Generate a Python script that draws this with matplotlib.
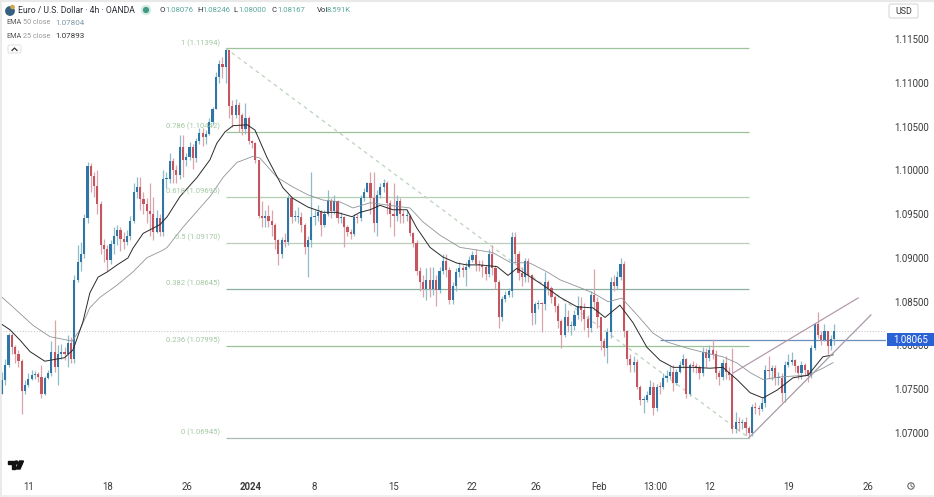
import matplotlib
matplotlib.use("Agg")
import matplotlib.pyplot as plt
import numpy as np
from matplotlib.patches import Rectangle, FancyBboxPatch, Circle, Polygon
from matplotlib.collections import LineCollection

plt.rcParams['font.family'] = ['Roboto', 'DejaVu Sans']

first_open = 1.0745
closes = [
 1.0761,1.0778,1.0812,1.0798,1.0790,1.0782,1.0748,1.0755,1.0762,1.0766,
 1.0767,1.0764,1.0745,1.0763,1.0769,1.0792,1.0775,1.0790,1.0793,1.0790,
 1.0803,1.0785,1.0875,1.0895,1.0904,1.0945,1.1005,1.0993,1.0982,1.0961,
 1.0915,1.0910,1.0898,1.0916,1.0925,1.0932,1.0922,1.0918,1.0925,1.0942,
 1.0975,1.0981,1.0967,1.0962,1.0953,1.0950,1.0930,1.0945,1.0930,1.0990,
 1.0990,1.1011,1.1000,1.0995,1.1027,1.1012,1.1015,1.1027,1.1014,1.1034,
 1.1043,1.1038,1.1042,1.1055,1.1070,1.1107,1.1122,1.1118,1.1138,1.1073,
 1.1063,1.1075,1.1063,1.1047,1.1060,1.1034,1.1031,1.1012,1.0948,1.0946,
 1.0948,1.0942,1.0938,1.0920,1.0905,1.0920,1.0918,1.0968,1.0947,1.0947,
 1.0947,1.0938,1.0913,1.0920,1.0947,1.0948,1.0952,1.0938,1.0950,1.0965,
 1.0953,1.0965,1.0945,1.0947,1.0935,1.0930,1.0927,1.0947,1.0945,1.0968,
 1.0975,1.0985,1.0968,1.0940,1.0972,1.0981,1.0985,1.0963,1.0950,1.0948,
 1.0965,1.0950,1.0948,1.0948,1.0928,1.0917,1.0885,1.0873,1.0864,1.0875,
 1.0865,1.0875,1.0863,1.0885,1.0897,1.0886,1.0852,1.0868,1.0884,1.0888,
 1.0886,1.0890,1.0898,1.0903,1.0893,1.0892,1.0890,1.0882,1.0905,1.0888,
 1.0872,1.0832,1.0853,1.0858,1.0862,1.0924,1.0905,1.0883,1.0878,1.0896,
 1.0880,1.0837,1.0847,1.0848,1.0847,1.0872,1.0866,1.0855,1.0845,1.0828,
 1.0812,1.0833,1.0822,1.0822,1.0835,1.0845,1.0840,1.0830,1.0820,1.0858,
 1.0850,1.0833,1.0805,1.0797,1.0815,1.0873,1.0868,1.0878,1.0893,1.0817,
 1.0784,1.0778,1.0781,1.0753,1.0738,1.0738,1.0743,1.0752,1.0729,1.0753,
 1.0752,1.0763,1.0765,1.0770,1.0757,1.0770,1.0778,1.0784,1.0744,1.0778,
 1.0776,1.0775,1.0769,1.0793,1.0786,1.0795,1.0790,1.0769,1.0764,1.0780,
 1.0770,1.0766,1.0705,1.0712,1.0711,1.0712,1.0706,1.0700,1.0730,1.0729,
 1.0727,1.0734,1.0772,1.0771,1.0774,1.0763,1.0763,1.0746,1.0778,1.0781,
 1.0783,1.0776,1.0769,1.0778,1.0772,1.0765,1.0797,1.0824,1.0812,1.0806,1.0816,1.0799,1.0807,1.08167]
highs = [
 1.0770,1.0785,1.0814,1.0814,1.0800,1.0795,1.0785,1.0760,1.0768,1.0772,
 1.0771,1.0770,1.0778,1.0765,1.0772,1.0805,1.0829,1.0800,1.0802,1.0798,
 1.0812,1.0810,1.0880,1.0915,1.0918,1.0950,1.1009,1.1008,1.0998,1.1000,
 1.0965,1.0922,1.0915,1.0920,1.0935,1.0938,1.0935,1.0930,1.0932,1.0948,
 1.0985,1.0992,1.0992,1.0975,1.0968,1.0985,1.0970,1.0955,1.0950,1.1000,
 1.0998,1.1020,1.1014,1.1006,1.1040,1.1040,1.1020,1.1032,1.1030,1.1037,
 1.1048,1.1048,1.1046,1.1060,1.1072,1.1112,1.1126,1.1130,1.1139,1.1132,
 1.1080,1.1082,1.1078,1.1066,1.1077,1.1062,1.1035,1.1032,1.1012,1.0965,
 1.0955,1.0960,1.0955,1.0940,1.0922,1.0924,1.0928,1.0972,1.0970,1.0955,
 1.0958,1.0952,1.0940,1.0925,1.0998,1.0955,1.0960,1.0955,1.0955,1.0978,
 1.0968,1.0972,1.0966,1.0952,1.0948,1.0938,1.0933,1.0950,1.0950,1.0972,
 1.0980,1.0987,1.0998,1.0998,1.0978,1.0985,1.0990,1.0988,1.0966,1.0985,
 1.0972,1.0968,1.0955,1.0955,1.0950,1.0930,1.0920,1.0890,1.0880,1.0888,
 1.0890,1.0890,1.0880,1.0890,1.0905,1.0905,1.0890,1.0872,1.0888,1.0895,
 1.0892,1.0895,1.0902,1.0908,1.0910,1.0898,1.0898,1.0892,1.0910,1.0915,
 1.0892,1.0875,1.0856,1.0862,1.0866,1.0930,1.0930,1.0908,1.0890,1.0900,
 1.0900,1.0882,1.0850,1.0852,1.0850,1.0884,1.0875,1.0868,1.0858,1.0848,
 1.0830,1.0848,1.0840,1.0828,1.0840,1.0857,1.0855,1.0848,1.0835,1.0862,
 1.0887,1.0855,1.0815,1.0808,1.0820,1.0878,1.0880,1.0885,1.0900,1.0897,
 1.0818,1.0790,1.0788,1.0785,1.0755,1.0742,1.0748,1.0760,1.0758,1.0756,
 1.0758,1.0768,1.0772,1.0776,1.0778,1.0773,1.0782,1.0790,1.0786,1.0780,
 1.0782,1.0780,1.0778,1.0798,1.0797,1.0800,1.0807,1.0795,1.0772,1.0785,
 1.0788,1.0775,1.0797,1.0724,1.0718,1.0716,1.0718,1.0708,1.0733,1.0735,
 1.0732,1.0740,1.0778,1.0788,1.0778,1.0778,1.0770,1.0768,1.0782,1.0790,
 1.0793,1.0785,1.0778,1.0782,1.0780,1.0772,1.0800,1.0826,1.0838,1.0816,1.0825,1.0815,1.0812,1.08246]
lows = [
 1.0745,1.0755,1.0775,1.0790,1.0780,1.0775,1.0722,1.0745,1.0752,1.0760,
 1.0762,1.0758,1.0740,1.0743,1.0762,1.0765,1.0770,1.0755,1.0785,1.0783,
 1.0775,1.0780,1.0780,1.0872,1.0885,1.0900,1.0940,1.0975,1.0970,1.0950,
 1.0905,1.0895,1.0885,1.0893,1.0905,1.0915,1.0908,1.0910,1.0915,1.0920,
 1.0940,1.0968,1.0955,1.0950,1.0940,1.0925,1.0920,1.0928,1.0925,1.0925,
 1.0980,1.0985,1.0985,1.0985,1.0990,1.0992,1.1005,1.1012,1.1002,1.1010,
 1.1030,1.1028,1.1030,1.1040,1.1052,1.1070,1.1100,1.1105,1.1100,1.1060,
 1.1050,1.1060,1.1044,1.1040,1.1042,1.1030,1.1025,1.1008,1.0945,1.0935,
 1.0935,1.0935,1.0925,1.0910,1.0892,1.0900,1.0912,1.0915,1.0940,1.0942,
 1.0940,1.0930,1.0905,1.0878,1.0912,1.0938,1.0942,1.0925,1.0935,1.0948,
 1.0945,1.0950,1.0940,1.0940,1.0912,1.0925,1.0922,1.0925,1.0940,1.0942,
 1.0965,1.0975,1.0950,1.0930,1.0925,1.0968,1.0975,1.0950,1.0935,1.0925,
 1.0942,1.0940,1.0940,1.0942,1.0925,1.0912,1.0880,1.0862,1.0855,1.0852,
 1.0855,1.0858,1.0845,1.0860,1.0882,1.0878,1.0847,1.0847,1.0862,1.0878,
 1.0878,1.0868,1.0888,1.0895,1.0885,1.0885,1.0878,1.0875,1.0878,1.0880,
 1.0865,1.0820,1.0828,1.0850,1.0855,1.0855,1.0895,1.0875,1.0868,1.0872,
 1.0872,1.0823,1.0825,1.0842,1.0815,1.0840,1.0858,1.0848,1.0838,1.0820,
 1.0797,1.0810,1.0815,1.0812,1.0818,1.0830,1.0828,1.0818,1.0810,1.0815,
 1.0840,1.0820,1.0795,1.0788,1.0780,1.0808,1.0862,1.0865,1.0875,1.0810,
 1.0778,1.0770,1.0770,1.0750,1.0732,1.0723,1.0735,1.0745,1.0721,1.0725,
 1.0745,1.0750,1.0758,1.0762,1.0748,1.0755,1.0768,1.0774,1.0740,1.0742,
 1.0770,1.0768,1.0762,1.0765,1.0775,1.0782,1.0785,1.0762,1.0755,1.0760,
 1.0762,1.0760,1.0700,1.0700,1.0702,1.0704,1.0698,1.06945,1.0697,1.0722,
 1.0720,1.0725,1.0730,1.0762,1.0760,1.0755,1.0755,1.0735,1.0735,1.0775,
 1.0778,1.0770,1.0762,1.0762,1.0765,1.0758,1.0763,1.0795,1.0808,1.0800,1.0805,1.0790,1.0795,1.08000]

ema25_bars = [0,2.4,5.5,8.5,13,19,21.6,24.6,26.7,29.2,32,35,38.3,39.8,42.9,48,50.2,54.1,59.3,63.2,65.3,67.8,70.2,74.5,76.9,80.5,85.4,88.4,93,97.6,101.8,106.4,108.8,111.9,114.9,118.8,123.1,126.1,130.1,134,138.3,141.3,145.3,150.5,153.8,156.5,159.9,164.4,169.6,174.8,179.6,183.3,187.8,191.8,196,200,204,210,215.2,219.1,223.4,227.4,231.3,235.6,240.4,245,249.5,252.6]
ema25_vals = [1.0824,1.0818,1.0806,1.0793,1.0782,1.0786,1.0795,1.0827,1.0860,1.0878,1.0884,1.0892,1.0900,1.0911,1.0928,1.0938,1.0947,1.0970,1.0992,1.1012,1.1031,1.1044,1.1051,1.1052,1.1046,1.1015,1.0980,1.0968,1.0958,1.0952,1.0952,1.0947,1.0952,1.0955,1.0960,1.0955,1.0955,1.0934,1.0912,1.0901,1.0894,1.0892,1.0892,1.0890,1.0880,1.0888,1.0880,1.0869,1.0855,1.0844,1.0843,1.0832,1.0846,1.0826,1.0798,1.0783,1.0775,1.0775,1.0774,1.0775,1.0761,1.0746,1.0740,1.0749,1.0763,1.0766,1.0787,1.07893]
ema50_bars = [0,3.3,9.4,14.6,21.3,23.7,26.7,29.8,35,39.8,44,49,50.2,55,63.2,67.2,71.4,76.3,78.4,83.6,88.4,93,97.6,102.7,106.7,111.9,117.9,124,128,133.1,139.2,144.4,149.2,154.4,160.5,165.7,169.6,175.7,179.6,184.2,188.4,193,197.9,202.1,208.2,214.3,219.1,223.4,227.4,231.3,236.5,240.4,245,249.5,252.6]
ema50_vals = [1.0855,1.0844,1.0823,1.0810,1.0805,1.0818,1.0843,1.0855,1.0869,1.0884,1.0900,1.0909,1.0912,1.0935,1.0970,1.0992,1.1009,1.1016,1.1014,1.0992,1.0981,1.0972,1.0966,1.0964,1.0957,1.0963,1.0960,1.0957,1.0941,1.0926,1.0912,1.0909,1.0906,1.0895,1.0894,1.0884,1.0875,1.0866,1.0860,1.0850,1.0854,1.0835,1.0814,1.0804,1.0797,1.0791,1.0787,1.0780,1.0769,1.0761,1.0764,1.0765,1.0766,1.0774,1.07804]

fib_ratios = ["1","0.786","0.618","0.5","0.382","0.236","0"]
fib_prices = [1.11394,1.10442,1.09695,1.09170,1.08645,1.07995,1.06945]
fib_colors = ["#9cc49c","#9cc29c","#b3cfb3","#bccfbc","#8ab0a2","#98c498","#a9bcb2"]
fib_start_bar, fib_end_bar = 68, 227
channel_low = ([227,264.1],[1.06945,1.08348])
channel_high = ([222.2,260.2],[1.07685,1.08542])

price_ticks = [1.07,1.075,1.08,1.085,1.09,1.095,1.10,1.105,1.11,1.115]
date_bars = [8.2,32.2,56.2,75.7,94.8,119.1,142.9,162.3,181.5,198.5,215.2,239.2,263.2]
date_labels = ["11","18","26","2024","8","15","22","26","Feb","13:00","12","19","26"]
last_price = 1.08167
marked_price = 1.08065
marked_start_bar = 200

W,H = 934,497
fig = plt.figure(figsize=(W/100,H/100),dpi=100,facecolor="white")
def px_axes(l,t,r,b):
    return fig.add_axes([l/W,1-b/H,(r-l)/W,(b-t)/H])
ax = px_axes(0,5,886,470)
ax.set_facecolor("white")
# pixel-aligned scales: bar spacing 3.29 px, first bar at x=2; 1.07 at y=433
ax.set_xlim(-2/3.29,884/3.29)
ax.set_ylim(1.07-(470-433)/8755.6,1.07+(433-5)/8755.6)
for s in ax.spines.values():
    s.set_visible(False)
ax.yaxis.tick_right()
ax.set_yticks(price_ticks)
ax.set_yticklabels([f"{p:.5f}" for p in price_ticks])
ax.set_xticks(date_bars)
ax.set_xticklabels(date_labels)
ax.tick_params(axis='both',length=0,labelsize=6.9,labelcolor="#3a3a3a")
ax.tick_params(axis='y',pad=6)
ax.tick_params(axis='x',pad=9)
for lab in ax.get_xticklabels():
    if lab.get_text()=="2024":
        lab.set_fontweight("bold")

C = np.array(closes); Hi = np.array(highs); Lo = np.array(lows)
O = np.r_[first_open,C[:-1]]
xs = np.arange(len(C))
up = C>=O
UP,DOWN = "#2f76a6","#c6555f"
UPW,DOWNW = "#8dbdc9","#dba3ab"

ax.hlines(fib_prices,fib_start_bar,fib_end_bar,colors=fib_colors,lw=0.9,zorder=1)
for r,p in zip(fib_ratios,fib_prices):
    ax.annotate(f"{r} ({p:.5f})",(fib_start_bar,p),xytext=(-4,4),textcoords="offset points",
                ha="right",va="center",fontsize=5.5,color="#a3c7a3",zorder=6)
ax.plot([fib_start_bar,fib_end_bar],[fib_prices[0],fib_prices[-1]],color="#bcd3bc",lw=0.9,
        dashes=(3,3),zorder=1)
ax.axhline(last_price,color="#c9c9c9",lw=0.8,ls=(0,(1,1.5)),zorder=1)
ax.hlines(marked_price,marked_start_bar,ax.get_xlim()[1],colors="#6a8fbc",lw=0.9,zorder=1)

segs_up = [[(x,l),(x,h)] for x,l,h,u in zip(xs,Lo,Hi,up) if u]
segs_dn = [[(x,l),(x,h)] for x,l,h,u in zip(xs,Lo,Hi,up) if not u]
ax.add_collection(LineCollection(segs_up,colors=UPW,linewidths=0.9,zorder=3))
ax.add_collection(LineCollection(segs_dn,colors=DOWNW,linewidths=0.9,zorder=3))
w = 0.66
ax.bar(xs[up],np.maximum(np.abs(C-O)[up],0.00012),bottom=np.minimum(O,C)[up],width=w,color=UP,lw=0,zorder=4)
ax.bar(xs[~up],np.maximum(np.abs(C-O)[~up],0.00012),bottom=np.minimum(O,C)[~up],width=w,color=DOWN,lw=0,zorder=4)

ax.plot(ema50_bars,ema50_vals,color="#8d9499",lw=0.6,zorder=5)
ax.plot(ema25_bars,ema25_vals,color="#2a2a2a",lw=0.7,zorder=5)
ax.plot(*channel_low,color="#a89aa8",lw=0.9,zorder=5)
ax.plot(*channel_high,color="#b59aac",lw=0.9,zorder=5)

trans = ax.get_yaxis_transform()
ax.add_patch(Rectangle((1.0015,marked_price-6.5/8755.6),47/886,13/8755.6,transform=trans,
                       facecolor="#2a62d6",edgecolor="none",clip_on=False,zorder=10))
ax.text(1.0015+23.5/886,marked_price,f"{marked_price:.5f}",transform=trans,ha="center",va="center",
        color="white",fontsize=6.9,zorder=11,clip_on=False)

ov = fig.add_axes([0,0,1,1],facecolor="none")
ov.set_xlim(0,W); ov.set_ylim(H,0); ov.axis("off")
D="#2b2f36"; G="#5aa89e"
ov.plot([1,1],[0,H],color="#e6e6e6",lw=1.2)
ov.plot([0,W],[1,1],color="#e9e9e9",lw=1.6)
ov.plot([0,W],[495.5,495.5],color="#ececec",lw=1.2)
ov.add_patch(Circle((10,11),4.2,color="#35607f"))
ov.add_patch(Circle((12.5,7),1.6,color="#d2a64a"))
ov.text(18,10.5,"Euro / U.S. Dollar · 4h · OANDA",fontsize=6.2,color=D,va="center")
ov.add_patch(Circle((146,10),2.4,color="#3d9a84"))
ov.add_patch(Circle((146,10),4.6,color="#3d9a84",alpha=0.15))
for x0,l,xv,v in [(160,"O",165,"1.08076"),(197,"H",202.5,"1.08246"),(233,"L",238,"1.08000"),(272,"C",277.5,"1.08167")]:
    ov.text(x0,10.5,l,fontsize=5.6,color=D,va="center")
    ov.text(xv,10.5,v,fontsize=5.6,color=G,va="center")
ov.text(317,10.5,"Vol",fontsize=5.6,color=D,va="center")
ov.text(327,10.5,"8.591K",fontsize=5.6,color=G,va="center")
ov.text(6,23,"EMA",fontsize=5.2,color="#555",va="center")
ov.text(23,23,"50 close",fontsize=5.2,color="#999",va="center")
ov.text(55,23,"1.07804",fontsize=5.8,color="#7f97a8",va="center")
ov.text(6,36,"EMA",fontsize=5.2,color="#555",va="center")
ov.text(23,36,"25 close",fontsize=5.2,color="#999",va="center")
ov.text(55,36,"1.07893",fontsize=5.8,color="#333",va="center")
ov.add_patch(FancyBboxPatch((8,45),13,8,boxstyle="round,pad=0,rounding_size=1.5",fc="white",ec="#e4e4e4",lw=0.8))
ov.plot([12,14.5,17],[50.5,48,50.5],color="#333",lw=0.9)
ov.add_patch(FancyBboxPatch((889,4),29,14,boxstyle="round,pad=0,rounding_size=2",fc="white",ec="#d8d8d8",lw=0.8))
ov.text(903.5,11,"USD",fontsize=6.4,color="#333",ha="center",va="center")
ov.add_patch(Polygon([(8,461),(15,461),(15,469),(11.5,469),(11.5,464),(8,464)],color="#111"))
ov.add_patch(Circle((16.5,462.5),1.5,color="#111"))
ov.add_patch(Polygon([(19.5,461),(23.5,461),(20,469),(16,469)],color="#111"))
ov.add_patch(Circle((911,486),3.2,fc="white",ec="#555",lw=0.7))
ov.plot([911,911,912.5],[484,486,487],color="#555",lw=0.6)

fig.savefig("out.png",dpi=100)
